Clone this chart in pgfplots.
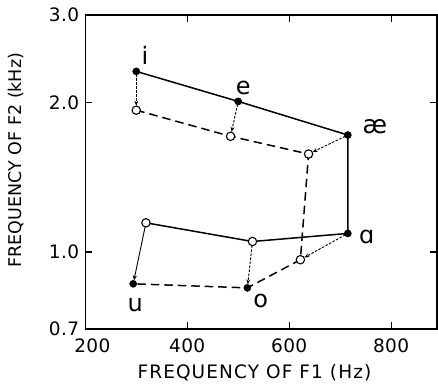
\documentclass[border=0pt]{standalone}
\usepackage{fontspec}
\setmainfont{DejaVu Sans}
\usepackage{pgfplots}
\pgfplotsset{compat=1.18}
\usetikzlibrary{arrows.meta}
\begin{document}
\begin{tikzpicture}
\begin{axis}[
  name=ax,
  width=351.7pt, height=314pt, scale only axis,
  xmin=200, xmax=890,
  ymode=log, ymin=0.7, ymax=3.0,
  xtick={400,600,800},
  xticklabels={400,600,800},
  extra x ticks={200},
  extra x tick labels={200},
  extra x tick style={xticklabel style={xshift=7pt}},
  ytick={0.7,1.0,2.0,3.0},
  yticklabels={0.7,1.0,2.0,3.0},
  minor tick num=0,
  minor ytick={},
  tick align=inside,
  major tick length=7pt,
  tick style={line width=1.1pt, black},
  axis line style={line width=1.5pt},
  ticklabel style={font=\fontsize{18.5}{18.5}\selectfont\addfontfeatures{LetterSpace=2}, inner sep=1pt},
  xticklabel style={yshift=-9pt},
  yticklabel style={xshift=-5pt},
  /pgf/number format/assume math mode=true,
  xlabel={FREQUENCY OF F1 (Hz)},
  ylabel={FREQUENCY OF F2 (kHz)},
  xlabel style={font=\fontsize{18.5}{18.5}\selectfont\addfontfeatures{LetterSpace=6}, at={(axis description cs:0.481,-0.159)}, anchor=base},
  ylabel style={font=\fontsize{17.5}{17.5}\selectfont, at={(axis description cs:-0.196,0.538)}, anchor=center},
  clip=false,
]
% solid (filled) contour
\addplot[black, line width=1.5pt] coordinates {(300,2.31)(500,2.01)(715,1.72)(715,1.09)(528,1.05)(319,1.145)};
% dashed contour
\addplot[black, line width=1.5pt, dash pattern=on 8.5pt off 5pt] coordinates {(300,1.93)(485,1.71)(638,1.575)(622,0.965)(518,0.847)(294,0.863)};
% arrows
\addplot[black, line width=0.9pt, dash pattern=on 2.5pt off 1.5pt, -{Stealth[length=5pt,width=4pt]}, shorten >=4.5pt, shorten <=3pt] coordinates {(300,2.31)(300,1.93)};
\addplot[black, line width=0.9pt, dash pattern=on 2.5pt off 1.5pt, -{Stealth[length=5pt,width=4pt]}, shorten >=4.5pt, shorten <=3pt] coordinates {(500,2.01)(485,1.71)};
\addplot[black, line width=0.9pt, dash pattern=on 2.5pt off 1.5pt, -{Stealth[length=5pt,width=4pt]}, shorten >=4.5pt, shorten <=3pt] coordinates {(715,1.72)(638,1.575)};
\addplot[black, line width=0.9pt, dash pattern=on 2.5pt off 1.5pt, -{Stealth[length=5pt,width=4pt]}, shorten >=4.5pt, shorten <=3pt] coordinates {(715,1.09)(622,0.965)};
\addplot[black, line width=0.9pt, dash pattern=on 2.5pt off 1.5pt, -{Stealth[length=5pt,width=4pt]}, shorten >=3.5pt, shorten <=4pt] coordinates {(528,1.05)(518,0.847)};
\addplot[black, line width=0.9pt, -{Stealth[length=5pt,width=4pt]}, shorten >=3.5pt, shorten <=4pt] coordinates {(319,1.145)(294,0.863)};
% markers
\addplot[only marks, mark=*, mark size=3.6pt, black] coordinates {(300,2.31)(500,2.01)(715,1.72)(715,1.09)(518,0.847)(294,0.863)};
\addplot[only marks, mark=*, mark size=4.2pt, mark options={fill=white, draw=black, line width=1.1pt}] coordinates {(300,1.93)(485,1.71)(638,1.575)(622,0.965)(528,1.05)(319,1.145)};
% vowel labels
\node[font=\fontsize{24}{24}\selectfont] at (axis cs:317,2.49) {i};
\node[font=\fontsize{24}{24}\selectfont] at (axis cs:510,2.14) {e};
\node[font=\fontsize{25}{25}\selectfont] at (axis cs:768,1.786) {æ};
\node[font=\fontsize{24}{24}\selectfont] at (axis cs:752,1.073) {ɑ};
\node[font=\fontsize{24}{24}\selectfont] at (axis cs:544,0.797) {o};
\node[font=\fontsize{24}{24}\selectfont] at (axis cs:298,0.783) {u};
\end{axis}
\pgfresetboundingbox
\path[use as bounding box] ([shift={(-85.3pt,-59pt)}]ax.south west) rectangle ([shift={(1pt,15pt)}]ax.north east);
\end{tikzpicture}
\end{document}
